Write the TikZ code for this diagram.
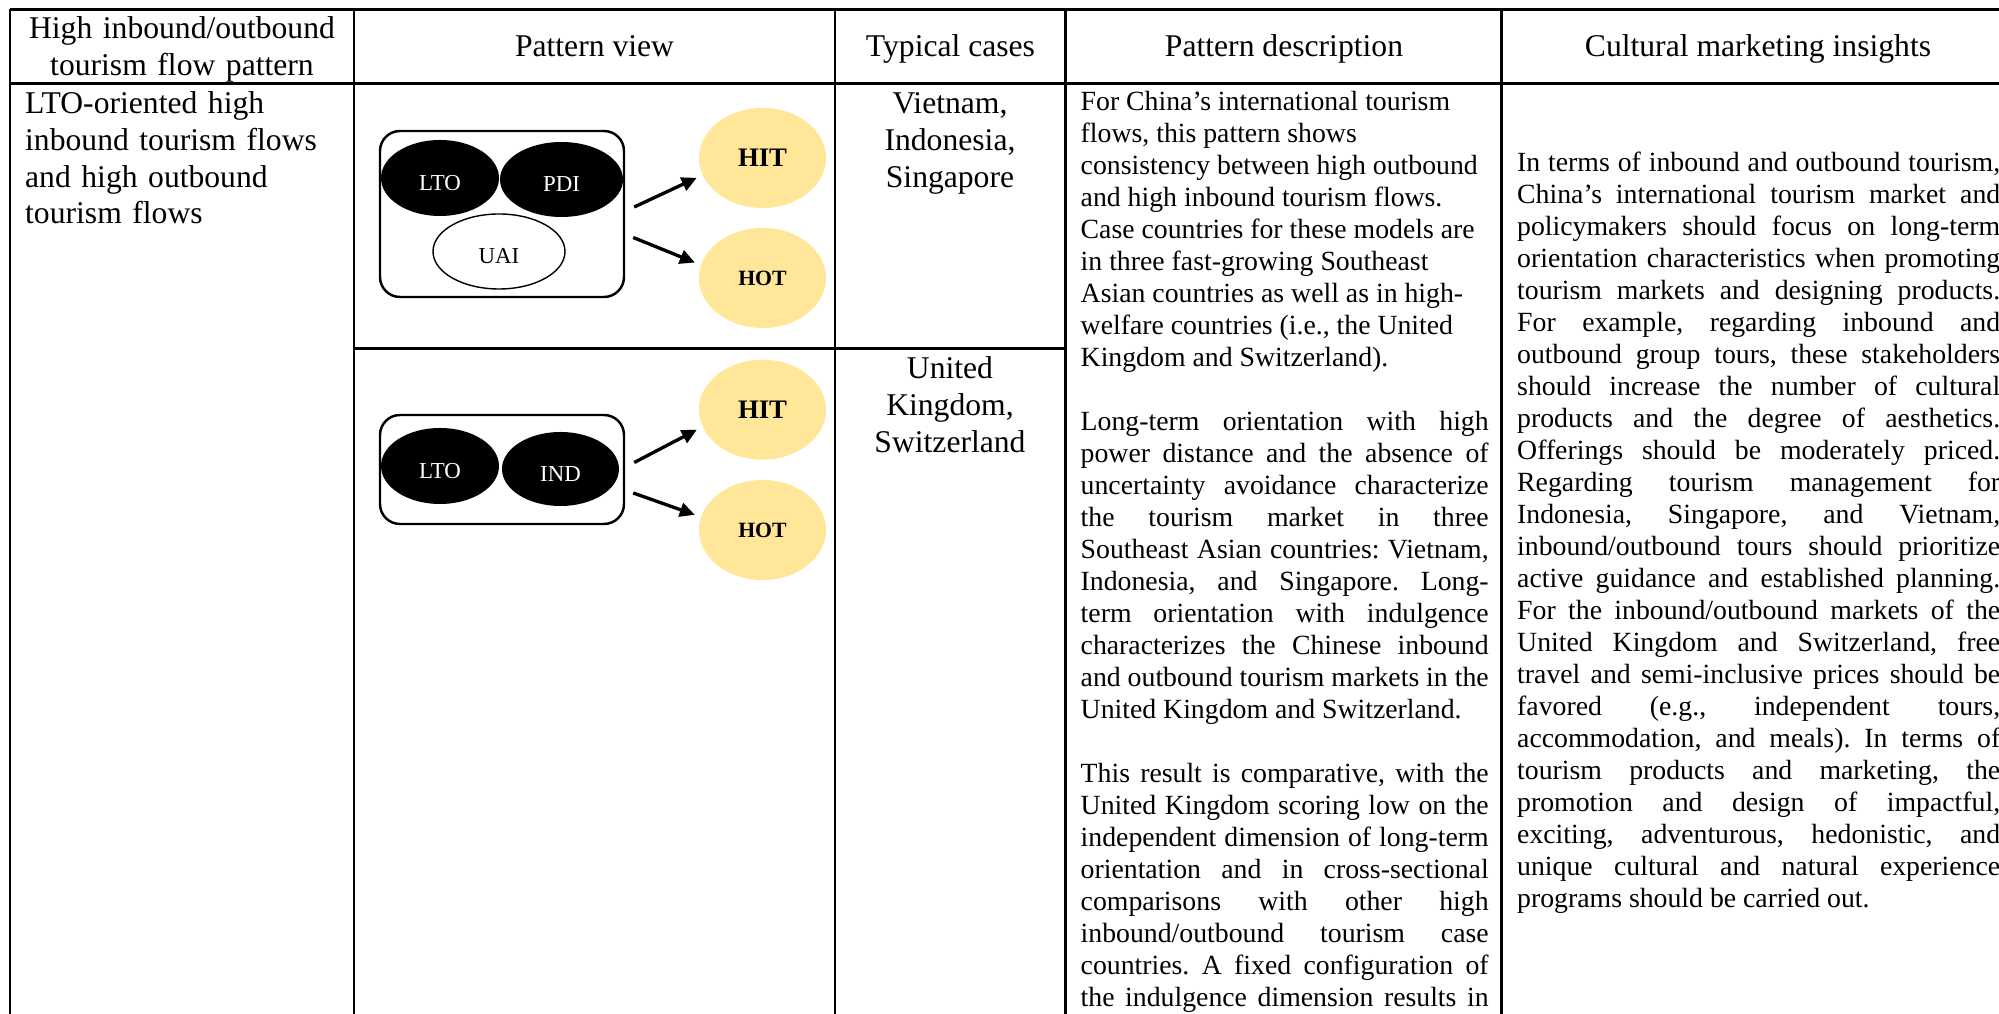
\documentclass[tikz,border=0pt]{standalone}
\usepackage{fontspec}
\setmainfont{Liberation Serif}
\usetikzlibrary{arrows.meta, shapes.geometric}
\definecolor{amarillo}{HTML}{FFE699}
\frenchspacing
\tolerance=10000
\hbadness=10000

\begin{document}
\begin{tikzpicture}[
    tablerule/.style={line width=0.8pt},
    bigtext/.style={inner sep=0pt, font=\fontsize{9}{10.5}\selectfont},
    smalltext/.style={inner sep=0pt, font=\fontsize{7.9}{9.1}\selectfont},
    groupbox/.style={draw, line width=0.7pt, rounded corners=0.2cm, minimum width=2.44cm},
    dimension/.style={ellipse, inner sep=0pt, text height=0.25cm, text depth=0pt, font=\fontsize{6.5}{7}\selectfont},
    dimfill/.style={dimension, fill=black, text=white},
    dimopen/.style={dimension, draw, line width=0.4pt, fill=white},
    outcome/.style={ellipse, fill=amarillo, inner sep=0pt, minimum width=1.27cm, minimum height=1cm, font=\bfseries\fontsize{#1}{#1}\selectfont},
    flowarrow/.style={line width=0.95pt, -{Triangle[length=0.15cm, width=0.14cm]}, shorten >=0.6mm}
]
\useasboundingbox (0,0) rectangle (19.99,-10.14);

\foreach \x in {0.10, 3.54, 8.35, 10.655, 15.017}
    \draw[tablerule] (\x,-0.093) -- (\x,-10.4);
\foreach \y in {-0.093, -0.835}
    \draw[tablerule] (0.10,\y) -- (20.4,\y);
\draw[tablerule] (3.54,-3.485) -- (10.655,-3.485);

\node[bigtext, anchor=base, text width=3.4cm, align=center] (Cabeza1) at (1.82,-0.383) {High inbound/outbound\\tourism flow pattern};
\node[bigtext, anchor=base] (Cabeza2) at (5.945,-0.567) {Pattern view};
\node[bigtext, anchor=base] (Cabeza3) at (9.505,-0.567) {Typical cases};
\node[bigtext, anchor=base] (Cabeza4) at (12.84,-0.567) {Pattern description};
\node[bigtext, anchor=base] (Cabeza5) at (17.58,-0.567) {Cultural marketing insights};

\node[bigtext, anchor=base west, text width=3.3cm, align=left] (Patron) at (0.245,-1.133) {LTO-oriented high\\inbound tourism flows\\and high outbound\\tourism flows};

\node[bigtext, anchor=base, text width=2.2cm, align=center] (Casos1) at (9.50,-1.133) {Vietnam,\\Indonesia,\\Singapore};
\node[bigtext, anchor=base, text width=2.2cm, align=center] (Casos2) at (9.50,-3.783) {United\\Kingdom,\\Switzerland};

\node[groupbox, minimum height=1.66cm] (Grupo1) at (5.02,-2.14) {};
\node[dimfill, minimum width=1.18cm, minimum height=0.76cm] (LTO1) at (4.40,-1.78) {LTO};
\node[dimfill, minimum width=1.23cm, minimum height=0.75cm] (PDI1) at (5.615,-1.795) {PDI};
\node[dimopen, minimum width=1.32cm, minimum height=0.75cm] (UAI1) at (4.99,-2.515) {UAI};
\node[outcome=7.6] (HIT1) at (7.625,-1.58) {HIT};
\node[outcome=6.2] (HOT1) at (7.625,-2.78) {HOT};
\draw[flowarrow] ([xshift=0.09cm, yshift=0.07cm]Grupo1.east) -- (HIT1.196);
\draw[flowarrow] ([xshift=0.08cm, yshift=-0.235cm]Grupo1.east) -- (HOT1.168);

\node[groupbox, minimum height=1.09cm] (Grupo2) at (5.02,-4.695) {};
\node[dimfill, minimum width=1.18cm, minimum height=0.76cm] (LTO2) at (4.40,-4.66) {LTO};
\node[dimfill, minimum width=1.17cm, minimum height=0.74cm] (IND2) at (5.605,-4.69) {IND};
\node[outcome=7.6] (HIT2) at (7.625,-4.097) {HIT};
\node[outcome=6.2] (HOT2) at (7.625,-5.30) {HOT};
\draw[flowarrow] ([xshift=0.09cm, yshift=0.07cm]Grupo2.east) -- (HIT2.196);
\draw[flowarrow] ([xshift=0.08cm, yshift=-0.235cm]Grupo2.east) -- (HOT2.168);

\node[smalltext, anchor=base west, text width=4.08cm, align=justify] (Descripcion) at (10.80,-1.107) {%
For China’s international tourism\newline
flows, this pattern shows\newline
consistency between high outbound\newline
and high inbound tourism flows.\newline
Case countries for these models are\newline
in three fast-growing Southeast\newline
Asian countries as well as in high-\newline
welfare countries (i.e., the United\newline
Kingdom and Switzerland).\par\vspace{\baselineskip}
Long-term orientation with high\linebreak
power distance and the absence of\linebreak
uncertainty avoidance characterize\linebreak
the tourism market in three\linebreak
Southeast Asian countries: Vietnam,\linebreak
Indonesia, and Singapore. Long-\linebreak
term orientation with indulgence\linebreak
characterizes the Chinese inbound\linebreak
and outbound tourism markets in the\linebreak
United Kingdom and Switzerland.\par\vspace{\baselineskip}
This result is comparative, with the\linebreak
United Kingdom scoring low on the\linebreak
independent dimension of long-term\linebreak
orientation and in cross-sectional\linebreak
comparisons with other high\linebreak
inbound/outbound tourism case\linebreak
countries. A fixed configuration of\linebreak
the indulgence dimension results in{\parfillskip=0pt\par}};

\node[smalltext, anchor=base west, text width=4.83cm, align=justify] (Ideas) at (15.165,-1.717) {%
In terms of inbound and outbound tourism,\linebreak
China’s international tourism market and\linebreak
policymakers should focus on long-term\linebreak
orientation characteristics when promoting\linebreak
tourism markets and designing products.\linebreak
For example, regarding inbound and\linebreak
outbound group tours, these stakeholders\linebreak
should increase the number of cultural\linebreak
products and the degree of aesthetics.\linebreak
Offerings should be moderately priced.\linebreak
Regarding tourism management for\linebreak
Indonesia, Singapore, and Vietnam,\linebreak
inbound/outbound tours should prioritize\linebreak
active guidance and established planning.\linebreak
For the inbound/outbound markets of the\linebreak
United Kingdom and Switzerland, free\linebreak
travel and semi-inclusive prices should be\linebreak
favored (e.g., independent tours,\linebreak
accommodation, and meals). In terms of\linebreak
tourism products and marketing, the\linebreak
promotion and design of impactful,\linebreak
exciting, adventurous, hedonistic, and\linebreak
unique cultural and natural experience\linebreak
programs should be carried out.};

\end{tikzpicture}
\end{document}
